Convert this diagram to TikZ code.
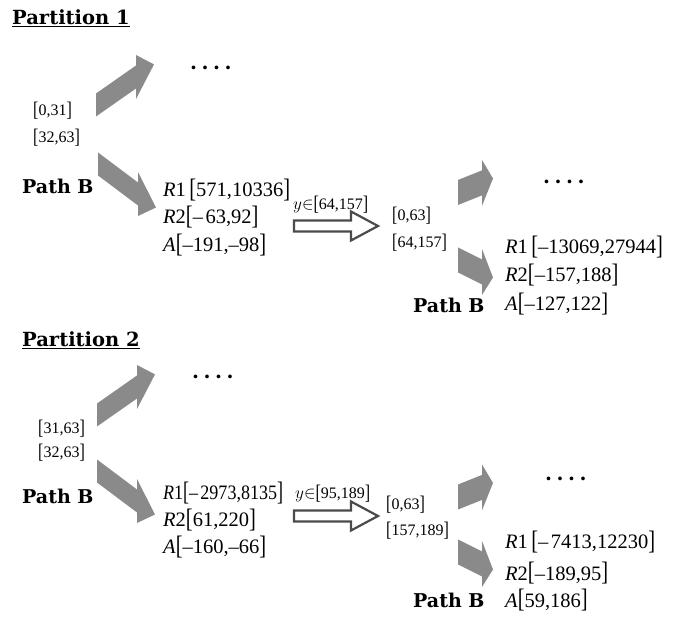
\documentclass[tikz,border=0pt]{standalone}
\usepackage{fontspec}
\usepackage{graphicx}
\setmainfont{Liberation Serif}
\newfontfamily\headfont{DejaVu Serif}

\definecolor{arrowgray}{RGB}{138,138,138}
\definecolor{outlinegray}{RGB}{75,75,75}

% tall interval brackets
\newcommand{\lbr}{\raisebox{-0.04em}{\scalebox{1}[1.3]{[}}}
\newcommand{\rbr}{\raisebox{-0.04em}{\scalebox{1}[1.3]{]}}}
\newcommand{\ivl}[1]{\lbr#1\rbr}
\newcommand{\mn}{–}
\newcommand{\mns}{–\hspace{2.5pt}}

\tikzset{
  bigarrow/.pic={\fill[arrowgray] (0,-11.5) -- (40,-11.5) -- (40,-22) -- (58,0)
      -- (40,22) -- (40,11.5) -- (0,11.5) -- cycle;},
  smallarrow/.pic={\fill[arrowgray] (0,-12.5) -- (24,-12.5) -- (24,-23) -- (35,0)
      -- (24,23) -- (24,12.5) -- (0,12.5) -- cycle;},
  hollowarrow/.pic={\draw[outlinegray, line width=2.2pt, line join=miter, fill=white]
      (0,-5.5) -- (57,-5.5) -- (57,-14.5) -- (84,0) -- (57,14.5) -- (57,5.5)
      -- (0,5.5) -- cycle;},
  titlelbl/.style={anchor=base west, inner sep=0,
      font=\headfont\bfseries\fontsize{19.5}{22}\selectfont},
  pathlbl/.style={anchor=base west, inner sep=0,
      font=\headfont\bfseries\fontsize{19}{22}\selectfont},
  dotslbl/.style={anchor=base west, inner sep=0,
      font=\headfont\bfseries\fontsize{20}{22}\selectfont},
  rangelbl/.style={anchor=base west, inner sep=0, font=\fontsize{16}{18}\selectfont},
  boundlbl/.style={anchor=base west, inner sep=0, font=\fontsize{20.5}{24}\selectfont},
  condlbl/.style={anchor=base west, inner sep=0, font=\fontsize{16}{18}\selectfont},
}
\newcommand{\fourdots}{.\hspace{4.5pt}.\hspace{4.5pt}.\hspace{4.5pt}.}

\begin{document}
\begin{tikzpicture}[x=1pt, y=-1pt]
\useasboundingbox (0,0) rectangle (678,617);

% ---------------- Partition 1 ----------------
\node[titlelbl] (t1) at (12,25) {\underline{Partition 1}};
\pic[yslant=0.7]  at (96,105) {bigarrow};
\pic[yslant=-0.75] at (98,164) {bigarrow};
\node[dotslbl] (d1a) at (190,70) {\fourdots};
\node[rangelbl] (r1a) at (33,116) {\ivl{0,31}};
\node[rangelbl] (r1b) at (33,143) {\ivl{32,63}};
\node[pathlbl] (p1a) at (22,194) {Path B};
\node[boundlbl] (b1a) at (163,197) {\textit{R}1\,\ivl{571,10336}};
\node[boundlbl] (b1b) at (163,224) {\textit{R}2\ivl{\mns 63,92}};
\node[boundlbl] (b1c) at (163,252) {\textit{A}\ivl{\mn191,\mn98}};
\node[condlbl] (c1) at (293,210) {$y{\in}$\ivl{64,157}};
\pic at (294,226) {hollowarrow};
\node[rangelbl] (r1c) at (392,221) {\ivl{0,63}};
\node[rangelbl] (r1d) at (392,248) {\ivl{64,157}};
\pic[yslant=0.4]  at (458,192.5) {smallarrow};
\pic[yslant=-0.5] at (458,260) {smallarrow};
\node[dotslbl] (d1b) at (543,184) {\fourdots};
\node[boundlbl] (b1d) at (505,254) {\textit{R}1\,\ivl{\mn13069,27944}};
\node[boundlbl] (b1e) at (505,282) {\textit{R}2\ivl{\mn157,188}};
\node[boundlbl] (b1f) at (505,311) {\textit{A}\ivl{\mn127,122}};
\node[pathlbl] (p1b) at (413,313) {Path B};

% ---------------- Partition 2 ----------------
\node[titlelbl] (t2) at (22,347) {\underline{Partition 2}};
\pic[yslant=0.7]  at (97,415) {bigarrow};
\pic[yslant=-0.75] at (97,471) {bigarrow};
\node[dotslbl] (d2a) at (192,379) {\fourdots};
\node[rangelbl] (r2a) at (38,434) {\ivl{31,63}};
\node[rangelbl] (r2b) at (38,458) {\ivl{32,63}};
\node[pathlbl] (p2a) at (22,504) {Path B};
\node[boundlbl] (b2a) at (163,500)
  {\scalebox{0.88}[1]{\textit{R}1\ivl{\mns 2973,8135}}};
\node[boundlbl] (b2b) at (163,527) {\textit{R}2\ivl{61,220}};
\node[boundlbl] (b2c) at (163,554) {\textit{A}\ivl{\mn160,\mn66}};
\node[condlbl] (c2) at (295,499) {$y{\in}$\ivl{95,189}};
\pic at (294,516) {hollowarrow};
\node[rangelbl] (r2c) at (386,510) {\ivl{0,63}};
\node[rangelbl] (r2d) at (386,536) {\ivl{157,189}};
\pic[yslant=0.4]  at (458,497) {smallarrow};
\pic[yslant=-0.5] at (458,552) {smallarrow};
\node[dotslbl] (d2b) at (545,481) {\fourdots};
\node[boundlbl] (b2d) at (505,549) {\textit{R}1\,\ivl{\mns 7413,12230}};
\node[boundlbl] (b2e) at (505,580) {\textit{R}2\ivl{\mn189,95}};
\node[boundlbl] (b2f) at (505,607) {\textit{A}\ivl{59,186}};
\node[pathlbl] (p2b) at (413,607) {Path B};
\end{tikzpicture}
\end{document}
